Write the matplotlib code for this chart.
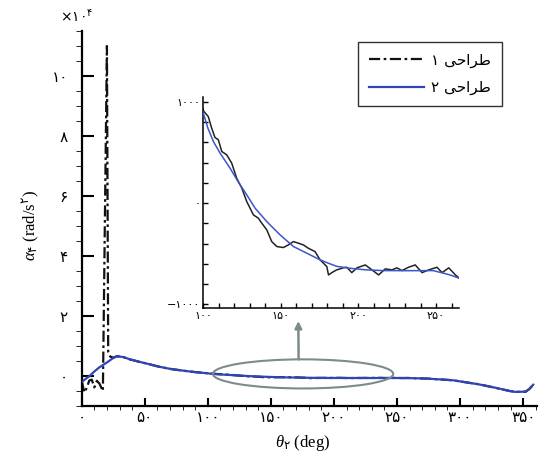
import matplotlib
matplotlib.use("Agg")
import matplotlib.pyplot as plt
from matplotlib.ticker import MultipleLocator, FixedLocator, FuncFormatter
from matplotlib.patches import Ellipse
import numpy as np

plt.rcParams['mathtext.fontset'] = 'custom'
plt.rcParams['mathtext.rm'] = 'DejaVu Sans'
plt.rcParams['mathtext.it'] = 'Liberation Serif:italic'

# ---- data: angular acceleration of link 4 versus crank angle ----
# design 2 (blue, smooth)
theta_d2 = [0, 3, 6, 10, 14, 17, 21, 25, 28, 33, 38, 45, 52, 60, 70, 82, 90,
            100, 103, 106.5, 110.8, 117.2, 122.6, 128, 133.4, 140.9, 149.5,
            158.1, 166.7, 175.3, 180.6, 186, 195, 205, 216, 230, 248, 255,
            260, 265, 275, 294, 315, 328, 339, 344, 352, 355, 358]
alpha_d2 = [-2000, -1000, -100, 1500, 2900, 3700, 4800, 6000, 6600, 6300,
            5600, 4800, 4100, 3200, 2400, 1700, 1300,
            891, 740, 610, 495, 347, 208, 82, -50, -182, -314,
            -429, -495, -561, -594, -625, -645, -660, -667, -668, -667, -693,
            -715, -743, -900, -1400, -2800, -3900, -5000, -5300, -5200,
            -4300, -2900]

# design 1 (black, dash-dot, noisy with a spike near 20 deg)
theta_d1 = [0, 2, 4, 6, 8, 10, 12, 14, 16.8, 20.0, 21.0, 22.5, 25, 28, 33,
            38, 45, 52, 60, 70, 82, 90,
            100.4, 103.2, 105.4, 107.5, 109.7, 111.9, 115.1, 118.3, 121.5,
            124.8, 128, 132.3, 135.5, 137.7, 140.9, 144.1, 147.4, 151.6,
            154.8, 158.1, 161.3, 164.5, 167.7, 172, 175.3, 179.6, 180.7,
            183.9, 186, 188.2, 190, 192.5, 195.7, 199, 204.4, 208.7, 213,
            217.3, 221.6, 224.8, 228, 232.3, 236.6, 241, 245.3, 250.6,
            253.9, 258.2, 262.5, 265,
            275, 294, 315, 328, 339, 344, 352, 355, 358]
alpha_d1 = [-1500, -5500, -4000, -1500, -1200, -3800, -1600, -2500, -5000,
            110000, 8000, 6500, 6100, 6600, 6300,
            5550, 4800, 4100, 3250, 2350, 1700, 1300,
            907, 857, 742, 650, 627, 511, 478, 396, 248,
            149, 16, -116, -149, -198, -264, -380, -429, -439,
            -413, -380, -396, -413, -446, -479, -561, -627, -710,
            -677, -660, -650, -640, -634, -687, -640, -611, -660, -710,
            -650, -660, -640, -667, -634, -611, -687, -660, -634,
            -687, -640, -710, -743,
            -880, -1420, -2750, -3950, -4950, -5300, -5250, -4300, -2900]

main_xticks = [0, 50, 100, 150, 200, 250, 300, 350]
main_yticks = [0, 20000, 40000, 60000, 80000, 100000]
inset_xticks = [100, 150, 200, 250]
inset_yticks = [-1000, 0, 1000]

label_d1 = '۱ ﯽﺣﺍﺮﻃ'   # "طراحی ۱" in visual order
label_d2 = '۲ ﯽﺣﺍﺮﻃ'   # "طراحی ۲" in visual order

FA_DIGITS = str.maketrans('0123456789-', '۰۱۲۳۴۵۶۷۸۹\u2212')


def fa(v):
    return str(int(round(v))).translate(FA_DIGITS)


BLUE = '#2f45b5'
BLACK = '#111111'
GRAY = '#7d8b8b'

W, H = 539, 457
fig = plt.figure(figsize=(W / 100, H / 100), dpi=100)

# ---- main axes ----
ax = fig.add_axes([81.7 / W, (H - 406) / H, (537 - 81.7) / W, (406 - 31) / H])
ax.plot(theta_d1, alpha_d1, color=BLACK, lw=1.6,
        linestyle=(0, (5, 1.6, 1.2, 1.6)), label=label_d1, zorder=2)
ax.plot(theta_d2, alpha_d2, color=BLUE, lw=1.6, label=label_d2, zorder=3)
ax.set_xlim(0, 361)
ax.set_ylim(-10000, 115000)

for s in ('top', 'right'):
    ax.spines[s].set_visible(False)
for s in ('left', 'bottom'):
    ax.spines[s].set_linewidth(1.6)

ax.xaxis.set_major_locator(FixedLocator(main_xticks))
ax.xaxis.set_minor_locator(MultipleLocator(10))
ax.yaxis.set_major_locator(FixedLocator(main_yticks))
ax.yaxis.set_minor_locator(MultipleLocator(5000))
ax.xaxis.set_major_formatter(FuncFormatter(lambda v, p: fa(v)))
ax.yaxis.set_major_formatter(FuncFormatter(lambda v, p: fa(v / 1e4)))
ax.tick_params(direction='in', width=1.5, labelsize=11, colors='black')
ax.tick_params(axis='x', which='major', length=6, pad=3)
ax.tick_params(axis='x', which='minor', length=3)
ax.tick_params(axis='y', which='major', length=8.5, pad=10)
ax.tick_params(axis='y', which='minor', length=4)

fig.text(93 / W, 1 - 17 / H, '×۱۰$^{۴}$', ha='right', va='center',
         fontsize=10, family=['DejaVu Sans'])

fig.text(31 / W, 1 - 225 / H, r'$\alpha_{۴}$ (rad/s$^{۲}$)', rotation=90,
         ha='center', va='center', fontsize=12,
         family=['Liberation Serif', 'DejaVu Sans'])
fig.text(303 / W, 1 - 443 / H, r'$\theta_{۲}$ (deg)', ha='center',
         va='center', fontsize=12, family=['Liberation Serif', 'DejaVu Sans'])

# zoom ellipse and pointer towards the inset
ax.add_patch(Ellipse((175.5, 700), 143, 9700, fill=False, edgecolor=GRAY,
                     lw=1.5, zorder=4))
ax.annotate('', xy=(298.3 / W, 1 - 321 / H), xycoords='figure fraction',
            xytext=(172, 700 + 9700 / 2), textcoords='data',
            arrowprops=dict(arrowstyle='-|>', color=GRAY, lw=1.8,
                            mutation_scale=10, shrinkA=0, shrinkB=0),
            zorder=4)

# ---- inset ----
ai = fig.add_axes([203.3 / W, (H - 308.3) / H, (459.3 - 203.3) / W,
                   (308.3 - 97) / H])
ai.set_facecolor('none')
ai.plot(theta_d1, alpha_d1, color='#222222', lw=1.1, zorder=2)
ai.plot(theta_d2, alpha_d2, color='#3a56c8', lw=1.1, zorder=3)
ai.set_xlim(100, 265)
ai.set_ylim(-1040, 1050)
for s in ('top', 'right'):
    ai.spines[s].set_visible(False)
for s in ('left', 'bottom'):
    ai.spines[s].set_linewidth(1.1)
ai.xaxis.set_major_locator(FixedLocator(inset_xticks))
ai.xaxis.set_minor_locator(MultipleLocator(10))
ai.yaxis.set_major_locator(FixedLocator(inset_yticks))
ai.yaxis.set_minor_locator(MultipleLocator(200))
ai.xaxis.set_major_formatter(FuncFormatter(lambda v, p: fa(v)))
ai.yaxis.set_major_formatter(FuncFormatter(lambda v, p: fa(v)))
ai.tick_params(which='both', direction='in', length=3.5, width=1.0,
               labelsize=8, pad=2)

# legend drawn at figure level so it sits above both axes
handles, labels = ax.get_legend_handles_labels()
leg = fig.legend(handles, labels, loc='upper left',
                 bbox_to_anchor=(358 / W, 1 - 42 / H),
                 bbox_transform=fig.transFigure, fontsize=11, frameon=True,
                 fancybox=False, framealpha=1, edgecolor='#333333',
                 handlelength=3.6, handletextpad=0.5, labelspacing=0.8,
                 borderpad=0.7, borderaxespad=0)
leg.get_frame().set_linewidth(1.0)
leg.set_zorder(10)

fig.savefig('out.png', dpi=100)
